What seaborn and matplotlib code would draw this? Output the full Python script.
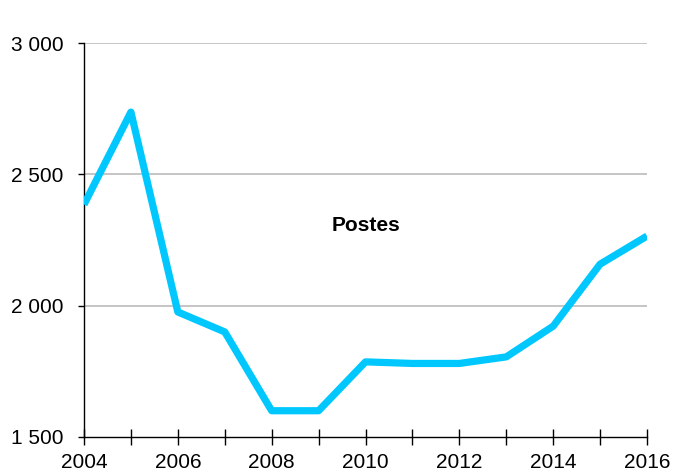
import numpy as np
import pandas as pd
import seaborn as sns
import matplotlib.pyplot as plt
from matplotlib.ticker import FuncFormatter

years = [2004, 2005, 2006, 2007, 2008, 2009, 2010, 2011, 2012, 2013, 2014, 2015, 2016]
postes = [2385, 2737, 1976, 1900, 1600, 1600, 1786, 1780, 1780, 1805, 1922, 2158, 2265]
label = "Postes"

df = pd.DataFrame({"annee": years, "postes": postes})

sns.set_style("white")
plt.rcParams['font.family'] = ['Liberation Sans', 'DejaVu Sans']

fig = plt.figure(figsize=(6.73, 4.71), dpi=100)
ax = fig.add_axes([0.1248, 0.0722, 0.8366, 0.8365])

for y in [2000, 2500, 3000]:
    ax.plot([years[0], years[-1]], [y, y], color="#bbbbbb", lw=1.2, zorder=1)

sns.lineplot(data=df, x="annee", y="postes", ax=ax, color="#00c8ff", lw=5.2,
             solid_capstyle="butt", zorder=3)

ax.set_xlim(2004, 2016)
ax.set_ylim(1500, 3000)
ax.set_xticks(years)
ax.set_xticklabels([str(y) if y % 2 == 0 else "" for y in years])
ax.set_yticks([1500, 2000, 2500, 3000])
ax.yaxis.set_major_formatter(FuncFormatter(lambda v, p: f"{int(v):,}".replace(",", " ")))
ax.tick_params(axis="x", bottom=True, direction="inout", length=11, width=1,
               labelsize=15, pad=6, colors="black")
ax.tick_params(axis="y", left=True, direction="out", length=4.5, width=1,
               labelsize=15, pad=10, colors="black")
ax.set_xlabel("")
ax.set_ylabel("")

for s in ["top", "right"]:
    ax.spines[s].set_visible(False)
for s in ["left", "bottom"]:
    ax.spines[s].set_color("black")
    ax.spines[s].set_linewidth(1)

ax.text(2010, 2305, label, ha="center", va="center", fontsize=15,
        fontweight="bold", color="black")

fig.savefig("out.png", dpi=100)
